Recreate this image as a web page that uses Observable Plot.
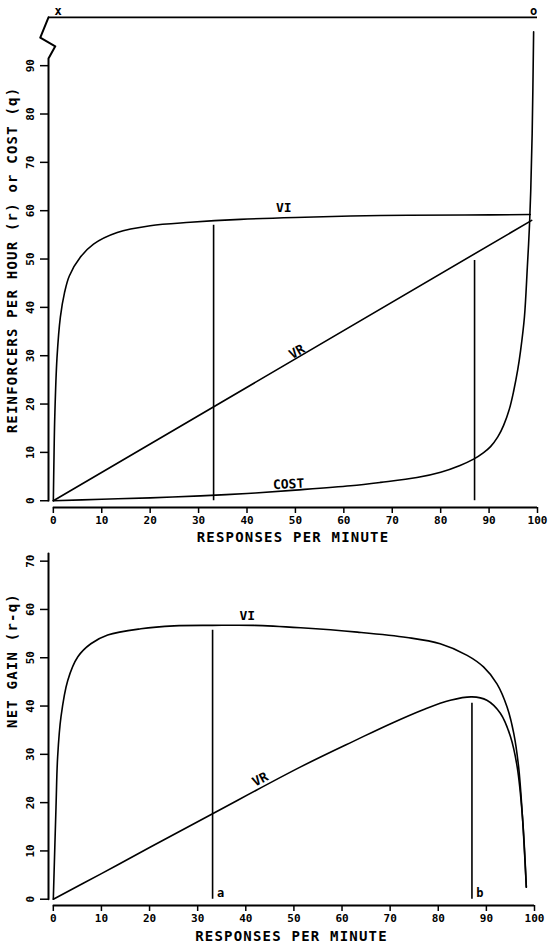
<!DOCTYPE html>
<html><head><meta charset="utf-8">
<script src="https://cdn.jsdelivr.net/npm/d3@7"></script>
<script src="https://cdn.jsdelivr.net/npm/@observablehq/plot@0.6"></script>
<style>
body{margin:0;background:#fff}
#chart svg{display:block}
</style>
</head><body><div id="chart"></div>
<script>
// ---------- data ----------
const xTicks = [0,10,20,30,40,50,60,70,80,90,100];
const yTicksTop = [0,10,20,30,40,50,60,70,80,90];
const yTicksBottom = [0,10,20,30,40,50,60,70];

const xTitle = "RESPONSES PER MINUTE";
const yTitleTop = "REINFORCERS PER HOUR (r) or COST (q)";
const yTitleBottom = "NET GAIN (r-q)";

// top panel: reinforcers per hour (VI, VR) and cost
const viRate = [[0,0],[0.15,10],[0.3,17.5],[0.75,29.5],[1.45,38],[2.3,43],[3.3,46.5],[5.6,50.4],[8.3,53.1],[13.2,55.5],[20,56.9],[28.3,57.6],[38.6,58.2],[50,58.6],[67.6,59],[85,59.1],[98.5,59.2]];
const vrRate = [[0,0],[98.8,58]];
const cost = [[0,0],[10,0.3],[20,0.6],[30.4,1.0],[40,1.5],[50,2.2],[61.4,3.1],[67.6,3.8],[75.1,4.8],[80,5.9],[84,7.3],[86.8,8.6],[88.8,9.9],[90.3,11.2],[91.8,13.2],[93,15.6],[94.2,19.0],[95.1,22.8],[95.9,27],[96.5,31],[97.3,38],[97.9,48.3],[98.3,56],[98.6,64],[98.9,76],[99.2,97]];

// bottom panel: net gain
const viNet = [[0,0],[0.56,19.1],[0.9,29.5],[1.6,37.8],[3.0,45.3],[5.1,50.2],[7.8,52.9],[11.3,54.7],[18.2,56.0],[25.1,56.6],[33.1,56.7],[41.7,56.7],[51.4,56.2],[63.2,55.3],[73.5,54.2],[80.4,52.9],[86.0,50.5],[89.4,48.1],[92.2,44.6],[94.3,39.8],[95.7,34.3],[96.7,27.4],[97.5,17.0],[98.3,2.5]];
const vrNet = [[0,0],[10,5.3],[20,10.7],[33.1,17.7],[51.4,27.4],[63.2,33.1],[70,36.3],[77,39.3],[82.5,41.2],[87,41.9],[90.1,41.2],[92.9,38.5],[95,33.7],[96.4,27.4],[97.5,17.0],[98.3,2.5]];

// optimum response rates (drop lines) a and b
const dropX = [33.1, 87.0];
const dropTopY = [57, 49.7];
const dropBottomY = [55.7, 40.6];
const dropNames = ["a", "b"];

// curve labels
const topLabels = [
  {text: "VI", x: 47.6, y: 60.6, rotate: 0},
  {text: "VR", x: 50.3, y: 30.8, rotate: -30},
  {text: "COST", x: 48.6, y: 3.4, rotate: -3}
];
const bottomLabels = [
  {text: "VI", x: 40.3, y: 58.6, rotate: 0},
  {text: "VR", x: 43.0, y: 24.8, rotate: -28}
];
const topEnds = [{text: "x", x: 1.0}, {text: "o", x: 99.2}];
const topLineY = 100;
// axis-break zigzag on the top y axis
const axisBreak = [[-1,91.5],[0.4,94],[-2.7,95.8],[-1,100]];

// ---------- drawing ----------
const FONT = "DejaVu Sans Mono";
const style = {fontFamily: FONT, fontWeight: "bold", fontSize: "11px", background: "#fff", color: "#000"};
const AX_LEFT = -1;           // y axis sits slightly left of x = 0
const AX_BOTTOM_TOP = -1.4;   // x axis sits slightly below y = 0
const AX_BOTTOM_BOT = -1.3;
const LW = 1.6;

function yAxisLine(top, withBreak) {
  const pts = [[AX_LEFT, 0]];
  if (withBreak) pts.push(...axisBreak); else pts.push([AX_LEFT, top]);
  return pts;
}

const topPlot = Plot.plot({
  width: 551, height: 548,
  marginLeft: 48, marginRight: 14, marginTop: 12, marginBottom: 41,
  x: {domain: [-1, 100]},
  y: {domain: [AX_BOTTOM_TOP, 101]},
  style,
  marks: [
    // axes
    Plot.ruleY([AX_BOTTOM_TOP], {x1: () => 0, x2: () => 100, strokeWidth: 2}),
    Plot.axisX({ticks: xTicks, tickSize: 6, tickPadding: 3, label: null, strokeWidth: 1.5, fontSize: 11}),
    Plot.line(yAxisLine(91.5, true), {strokeWidth: 2}),
    Plot.axisY({ticks: yTicksTop, tickSize: 8, tickFormat: () => "", label: null, strokeWidth: 1.5}),
    Plot.text(yTicksTop, {y: d => d, text: d => String(d), frameAnchor: "left", textAnchor: "middle", dx: -18, rotate: -90, fontSize: 11}),
    Plot.text([xTitle], {text: d => d, frameAnchor: "bottom", lineAnchor: "middle", dy: 30, fontSize: 14}),
    Plot.text([yTitleTop], {text: d => d, frameAnchor: "left", textAnchor: "middle", lineAnchor: "middle", dx: -36, rotate: -90, fontSize: 14}),
    // top reference line with x / o marks
    Plot.ruleY([topLineY], {x1: () => -1, x2: () => 100, strokeWidth: 1.8}),
    Plot.text(topEnds, {x: "x", y: () => topLineY, text: "text", dy: -6, fontSize: 12}),
    // curves
    Plot.line(viRate, {curve: "catmull-rom", strokeWidth: LW}),
    Plot.line(vrRate, {strokeWidth: LW}),
    Plot.line(cost, {curve: "catmull-rom", strokeWidth: LW}),
    Plot.ruleX(dropX, {x: d => d, y1: () => 0, y2: (d, i) => dropTopY[i], strokeWidth: LW}),
    Plot.text(topLabels, {x: "x", y: "y", text: "text", rotate: "rotate", fontSize: 13})
  ]
});

const bottomPlot = Plot.plot({
  width: 551, height: 396,
  marginLeft: 48, marginRight: 17, marginTop: 3, marginBottom: 39,
  x: {domain: [-1, 100]},
  y: {domain: [AX_BOTTOM_BOT, 72]},
  style,
  marks: [
    Plot.ruleY([AX_BOTTOM_BOT], {x1: () => 0, x2: () => 100, strokeWidth: 2}),
    Plot.axisX({ticks: xTicks, tickSize: 6, tickPadding: 3, label: null, strokeWidth: 1.5, fontSize: 11}),
    Plot.line(yAxisLine(71.6, false), {strokeWidth: 2}),
    Plot.axisY({ticks: yTicksBottom, tickSize: 8, tickFormat: () => "", label: null, strokeWidth: 1.5}),
    Plot.text(yTicksBottom, {y: d => d, text: d => String(d), frameAnchor: "left", textAnchor: "middle", dx: -18, rotate: -90, fontSize: 11}),
    Plot.text([xTitle], {text: d => d, frameAnchor: "bottom", lineAnchor: "middle", dy: 31, fontSize: 14}),
    Plot.text([yTitleBottom], {text: d => d, frameAnchor: "left", textAnchor: "middle", lineAnchor: "middle", dx: -36, dy: -68, rotate: -90, fontSize: 14}),
    Plot.line(viNet, {curve: "catmull-rom", strokeWidth: LW}),
    Plot.line(vrNet, {curve: "catmull-rom", strokeWidth: LW}),
    Plot.ruleX(dropX, {x: d => d, y1: () => 0, y2: (d, i) => dropBottomY[i], strokeWidth: LW}),
    Plot.text(dropX, {x: d => d, y: () => 1.3, text: (d, i) => dropNames[i], dx: 8, fontSize: 12}),
    Plot.text(bottomLabels, {x: "x", y: "y", text: "text", rotate: "rotate", fontSize: 13})
  ]
});

const chart = document.getElementById("chart");
chart.appendChild(topPlot);
chart.appendChild(bottomPlot);

// letter spacing for the plotter-style axis titles
const titles = [xTitle, yTitleTop, yTitleBottom];
d3.select(chart).selectAll("text")
  .filter(function() { return titles.includes(this.textContent); })
  .attr("letter-spacing", "1.2");
</script>
</body></html>
